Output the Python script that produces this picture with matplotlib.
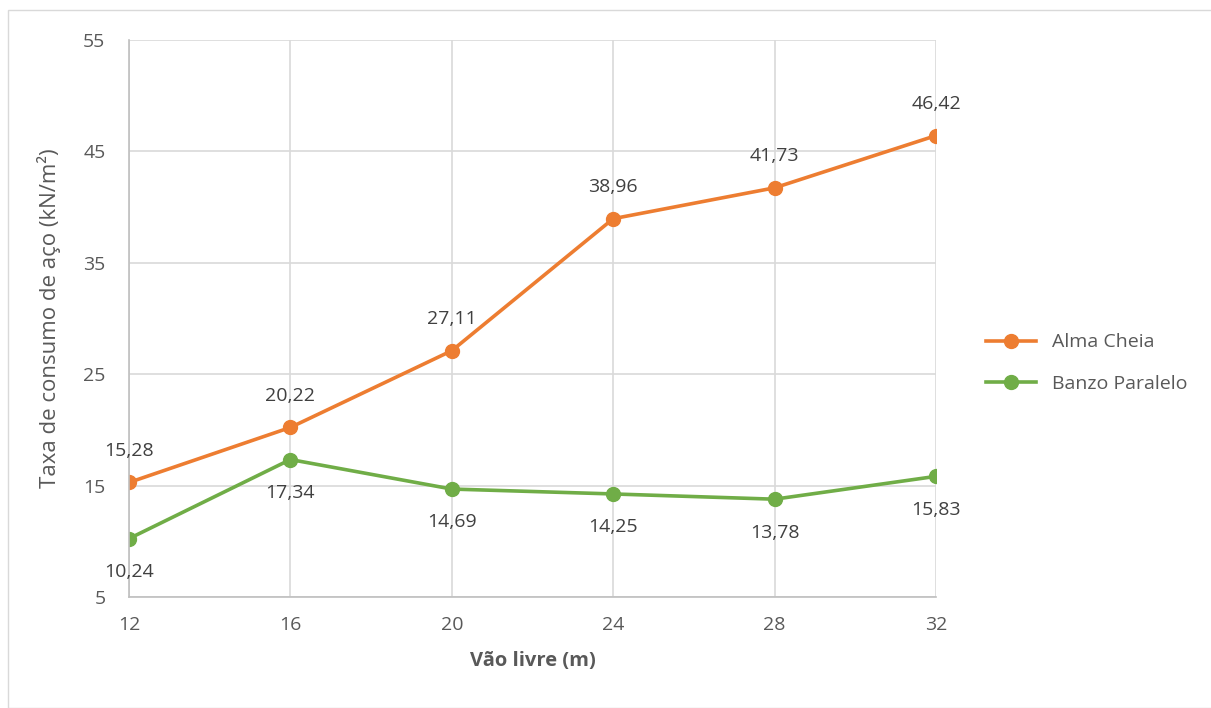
import matplotlib.pyplot as plt
from matplotlib.patches import Rectangle

plt.rcParams['font.family'] = ['Open Sans', 'DejaVu Sans']

vao = [12, 16, 20, 24, 28, 32]
alma_cheia = [15.28, 20.22, 27.11, 38.96, 41.73, 46.42]
banzo_paralelo = [10.24, 17.34, 14.69, 14.25, 13.78, 15.83]

orange = '#ED7D31'
green = '#70AD47'
txt = '#595959'

fig = plt.figure(figsize=(12.11, 7.08), dpi=100)
fig.patches.append(Rectangle((8 / 1211, 0), 1.0, 1 - 10 / 708, transform=fig.transFigure,
                             fill=False, edgecolor='#D9D9D9', linewidth=1))
ax = fig.add_axes([129 / 1211, 1 - 597 / 708, 807 / 1211, 557 / 708])

ax.plot(vao, alma_cheia, color=orange, lw=2.6, marker='o', ms=10, label='Alma Cheia')
ax.plot(vao, banzo_paralelo, color=green, lw=2.6, marker='o', ms=10, label='Banzo Paralelo')

for x, y in zip(vao, alma_cheia):
    ax.annotate(f'{y:.2f}'.replace('.', ','), (x, y), xytext=(0, 23), textcoords='offset points',
                ha='center', va='center', fontsize=14, color='#404040')
for x, y in zip(vao, banzo_paralelo):
    ax.annotate(f'{y:.2f}'.replace('.', ','), (x, y), xytext=(0, -24), textcoords='offset points',
                ha='center', va='center', fontsize=14, color='#404040')

ax.set_xlim(12, 32)
ax.set_ylim(5, 55)
ax.set_xticks(vao)
ax.set_yticks(range(5, 56, 10))
ax.grid(True, color='#D9D9D9', lw=1.2)
ax.set_axisbelow(True)
for s in ['top', 'right']:
    ax.spines[s].set_visible(False)
for s in ['left', 'bottom']:
    ax.spines[s].set_color('#BFBFBF')
    ax.spines[s].set_linewidth(1.2)
ax.tick_params(length=0, labelsize=14, labelcolor=txt)
ax.tick_params(axis='y', pad=17)
ax.tick_params(axis='x', pad=14)

ax.set_xlabel('Vão livre (m)', fontsize=14.5, fontweight='bold', color=txt, labelpad=12)
ax.set_ylabel('Taxa de consumo de aço (kN/m²)', fontsize=16, color=txt, labelpad=16)

ax.legend(loc='center left', bbox_to_anchor=(1.04, 0.42), frameon=False, fontsize=14,
          labelcolor=txt, handlelength=2.6, labelspacing=1.2)

fig.savefig('out.png', dpi=100)
